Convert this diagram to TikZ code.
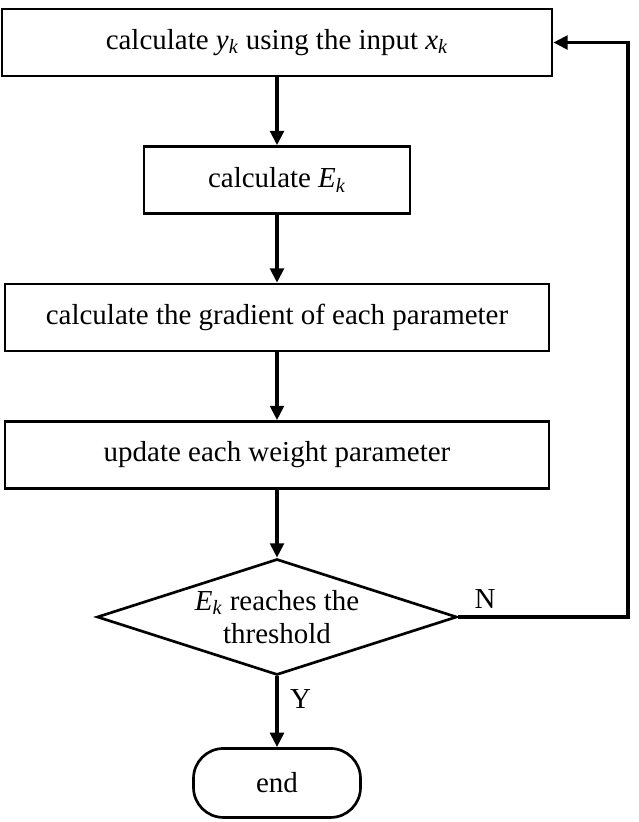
\documentclass[tikz,border=0pt]{standalone}
\usepackage{fontspec}
\setmainfont{Liberation Serif}
\usetikzlibrary{positioning,shapes.geometric,arrows.meta}
\newcommand{\varsub}[2]{\textit{#1}\textsubscript{\textit{#2}}}

\begin{document}
\begin{tikzpicture}[node distance=1.7cm,
  font=\fontsize{20.6}{23.5}\selectfont,
  box/.style={rectangle,draw,line width=1.9pt,minimum height=1.67cm,inner sep=0pt},
  arr/.style={line width=2.8pt,-{Triangle[length=0.36cm,width=0.34cm]}}]
\useasboundingbox (0,0) rectangle (15.95,-20.55);
\node[box,minimum width=13.75cm](calcy) at (6.925,-1.0625){calculate \varsub{y}{k} using the input \varsub{x}{k}};
\node[box,minimum width=6.65cm,below=of calcy](calce){calculate \varsub{E}{k}};
\node[box,minimum width=13.6cm,below=of calce](grad){calculate the gradient of each parameter};
\node[box,minimum width=13.6cm,below=of grad](upd){update each weight parameter};
\node[diamond,draw,line width=1.9pt,aspect=3.1,inner sep=0pt,
  minimum width=9cm,minimum height=2.9cm,align=center,below=of upd](dec){\varsub{E}{k} reaches the\\threshold};
\node[box,rounded corners=0.75cm,minimum width=4.175cm,minimum height=1.725cm,
  below=1.77cm of dec](fin){end};
\coordinate (back) at (15.7,0);
\draw[arr] (calcy) -- (calce);
\draw[arr] (calce) -- (grad);
\draw[arr] (grad) -- (upd);
\draw[arr] (upd) -- (dec);
\draw[arr] (dec) -- (fin);
\draw[arr] (dec.east) -- (dec.east -| back) |- (calcy.east);
\node[inner sep=0pt,anchor=south west,above right=0.2cm and 0.4cm of dec.east](no){N};
\node[inner sep=0pt,anchor=north west,below right=0.32cm and 0.32cm of dec.south](yes){Y};
\end{tikzpicture}
\end{document}
